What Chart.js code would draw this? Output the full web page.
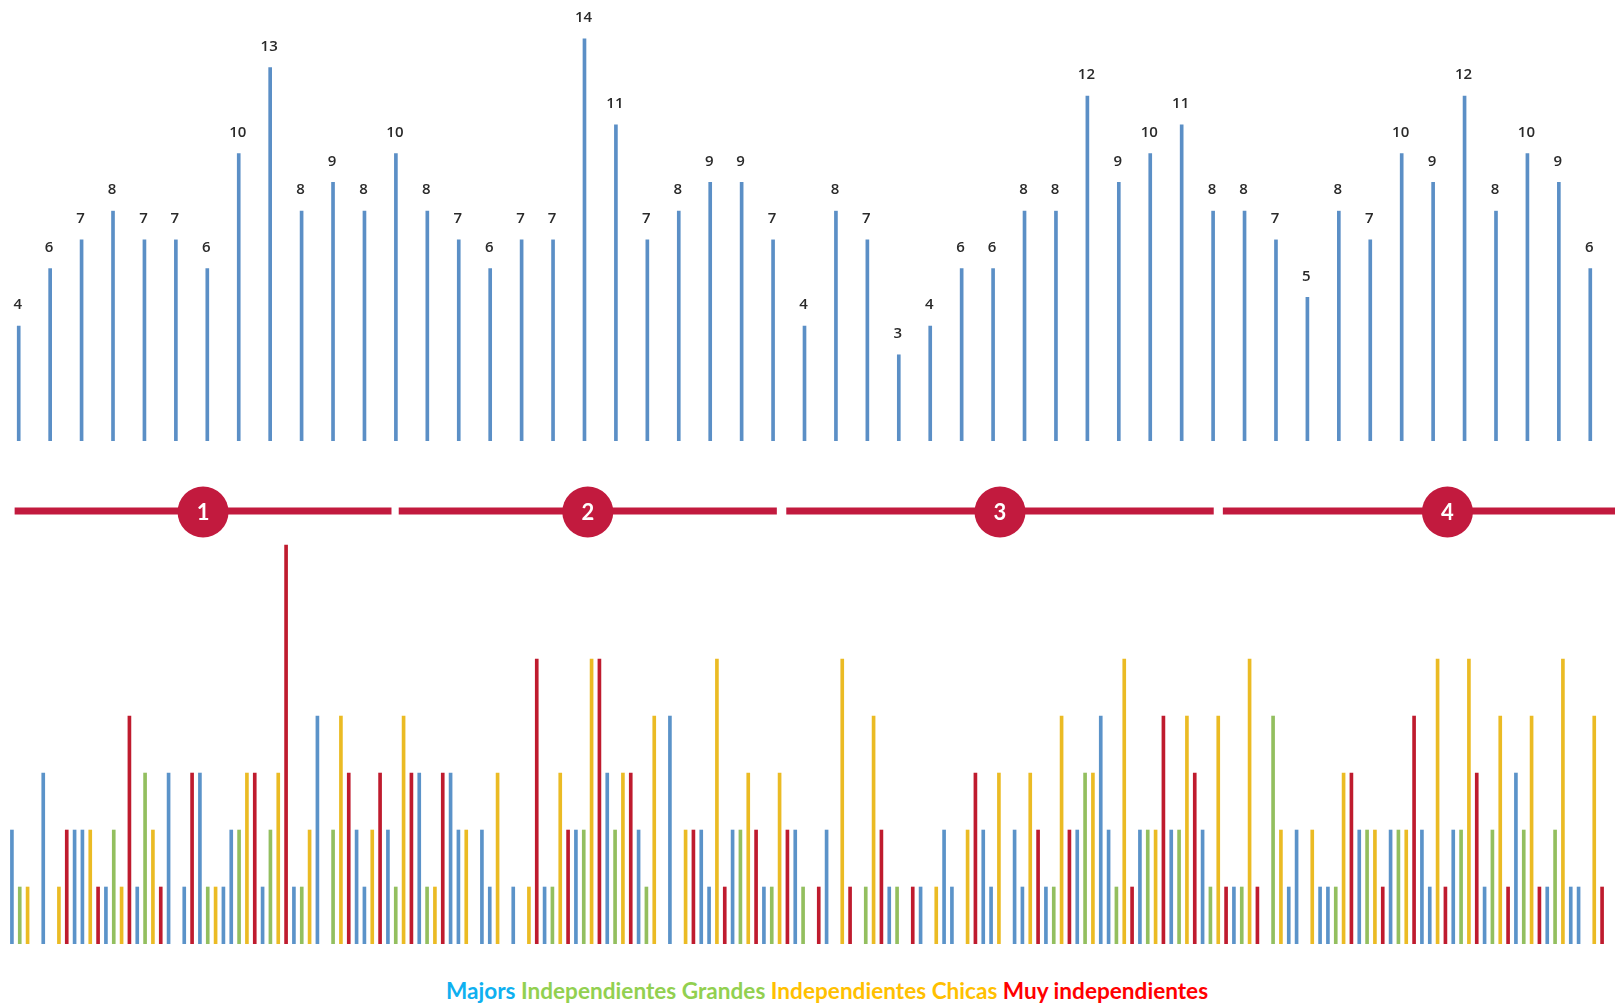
<!DOCTYPE html>
<html><head><meta charset="utf-8">
<script src="https://cdn.jsdelivr.net/npm/chart.js@4.4.1/dist/chart.umd.min.js"></script>
<style>
html,body{margin:0;padding:0;background:#fff;width:1615px;height:1004px;overflow:hidden;}
#topChart{position:absolute;left:0;top:0;}
#bottomChart{position:absolute;left:0;top:520px;}
#legend{position:absolute;top:977px;left:827px;transform:translateX(-50%);white-space:nowrap;font-family:Lato,'Open Sans',sans-serif;font-weight:700;font-size:22.6px;line-height:28px;}
</style></head><body>
<canvas id="topChart" width="1615" height="545"></canvas>
<canvas id="bottomChart" width="1615" height="440"></canvas>
<div id="legend"></div>
<script>
// ---- top chart: songs per week ----
const weekLabels = Array.from({length: 51}, (_, i) => String(i + 1));
const weekSongs = [4,6,7,8,7,7,6,10,13,8,9,8,10,8,7,6,7,7,14,11,7,8,9,9,7,4,8,7,3,4,6,6,8,8,12,9,10,11,8,8,7,5,8,7,10,9,12,8,10,9,6];

// ---- quarter separators (in week-index units) ----
const quarterNames = ['1','2','3','4'];
const quarterStart = [-0.13, 12.09, 24.42, 38.31];
const quarterEnd   = [11.86, 24.12, 38.02, 52.6];

// ---- bottom chart: one slot per song ----
const songValues = [
  2,1,1,null,3,null,1,2,2,2,
  2,1,1,2,1,4,1,3,2,1,
  3,null,1,3,3,1,1,1,2,2,
  3,3,1,2,3,7,1,1,2,4,
  null,2,4,3,2,1,2,3,2,1,
  4,3,3,1,1,3,3,2,2,null,
  2,1,3,null,1,null,1,5,1,1,
  3,2,2,2,5,5,3,2,3,3,
  2,1,4,null,4,null,2,2,2,1,
  5,1,2,2,3,2,1,1,3,2,
  2,1,null,1,2,null,5,1,null,1,
  4,2,1,1,null,1,1,null,1,2,
  1,null,2,3,2,1,3,null,2,1,
  3,2,1,1,4,2,2,3,3,4,
  2,1,5,1,2,2,2,4,2,2,
  4,3,2,1,4,1,1,1,5,1,
  null,4,2,1,2,null,2,1,1,1,
  3,3,2,2,2,1,2,2,2,4,
  2,1,5,1,2,2,5,3,1,2,
  4,1,3,2,4,1,1,2,5,1,
  1,null,4,1
];
const songTypes = (
  "MGC.M.CIMM" + "CIMGCIMGCI" + "M.MIMGCMMG" + "CIMGCIMGCM" + ".GCIMMCIMG" +
  "CIMGCIMMC." + "MMC.M.CIMG" + "CIMGCIMGCI" + "MGC.M.CIMM" + "CIMGCIMGCI" +
  "MG.IM.CI.G" + "CIMG.IM.CM" + "M.CIMMC.MM" + "CIMGCIMGCM" + "MGCIMGCIMG" +
  "CIMGCIMGCI" + ".GCMM.CMMG" + "CIMGCIMGCI" + "MMCIMGCIMG" + "CIMGCIMGCM" + "M.CI"
).split('');
const songLabels = songValues.map((_, i) => String(i + 1));

const seriesKeys   = ['M', 'G', 'C', 'I'];
const seriesNames  = ['Majors', 'Independientes Grandes', 'Independientes Chicas', 'Muy independientes'];
const barColors    = ['#5b93c9', '#93bf5f', '#ebbb24', '#bf1b2e'];
const legendColors = ['#0fb0f0', '#92d050', '#ffc000', '#ff0000'];

// legend
const lg = document.getElementById('legend');
seriesNames.forEach((n, i) => {
  const s = document.createElement('span');
  s.style.color = legendColors[i];
  s.textContent = n;
  lg.appendChild(s);
  if (i < seriesNames.length - 1) lg.appendChild(document.createTextNode(' '));
});

const topLabelPlugin = {
  id: 'topLabels',
  afterDatasetsDraw(chart) {
    const ctx = chart.ctx;
    ctx.save();
    ctx.font = '600 15px "Open Sans", sans-serif';
    ctx.fillStyle = '#2a2a2a';
    ctx.textAlign = 'center';
    ctx.textBaseline = 'middle';
    chart.getDatasetMeta(0).data.forEach((bar, i) => {
      ctx.fillText(String(weekSongs[i]), bar.x - 1, bar.y - 21);
    });
    ctx.restore();
  }
};

const separatorPlugin = {
  id: 'separator',
  afterDraw(chart) {
    const ctx = chart.ctx, xs = chart.scales.x;
    const y = 511, col = '#c21a3e';
    ctx.save();
    ctx.strokeStyle = col;
    ctx.lineWidth = 7;
    ctx.lineCap = 'butt';
    quarterNames.forEach((q, i) => {
      const x1 = xs.getPixelForValue(quarterStart[i]);
      const x2 = xs.getPixelForValue(quarterEnd[i]);
      ctx.beginPath(); ctx.moveTo(x1, y); ctx.lineTo(x2, y); ctx.stroke();
      const cx = (x1 + x2) / 2;
      ctx.beginPath(); ctx.arc(cx, y + 1, 25.5, 0, Math.PI * 2); ctx.fillStyle = col; ctx.fill();
      ctx.fillStyle = '#ffffff';
      ctx.font = 'bold 22px Lato, "Open Sans", sans-serif';
      ctx.textAlign = 'center'; ctx.textBaseline = 'middle';
      ctx.fillText(q, cx, y + 2);
    });
    ctx.restore();
  }
};

new Chart(document.getElementById('topChart'), {
  type: 'bar',
  data: {
    labels: weekLabels,
    datasets: [{ data: weekSongs, backgroundColor: '#5b8fc6', barThickness: 3 }]
  },
  options: {
    responsive: false, animation: false, devicePixelRatio: 1,
    layout: { padding: { top: 10, bottom: 104, left: 3, right: 9 } },
    plugins: { legend: { display: false }, tooltip: { enabled: false } },
    scales: {
      x: { display: false },
      y: { display: false, min: 0, max: 15 }
    }
  },
  plugins: [topLabelPlugin, separatorPlugin]
});

new Chart(document.getElementById('bottomChart'), {
  type: 'bar',
  data: {
    labels: songLabels,
    datasets: seriesKeys.map((k, s) => ({
      label: seriesNames[s],
      data: songValues.map((v, i) => songTypes[i] === k ? v : null),
      backgroundColor: barColors[s],
      barThickness: 3,
      grouped: false
    }))
  },
  options: {
    responsive: false, animation: false, devicePixelRatio: 1,
    layout: { padding: { top: 8, bottom: 16, left: 8, right: 9 } },
    plugins: { legend: { display: false }, tooltip: { enabled: false } },
    scales: {
      x: { display: false },
      y: { display: false, min: 0, max: 7.3 }
    }
  }
});
</script>
</body></html>
